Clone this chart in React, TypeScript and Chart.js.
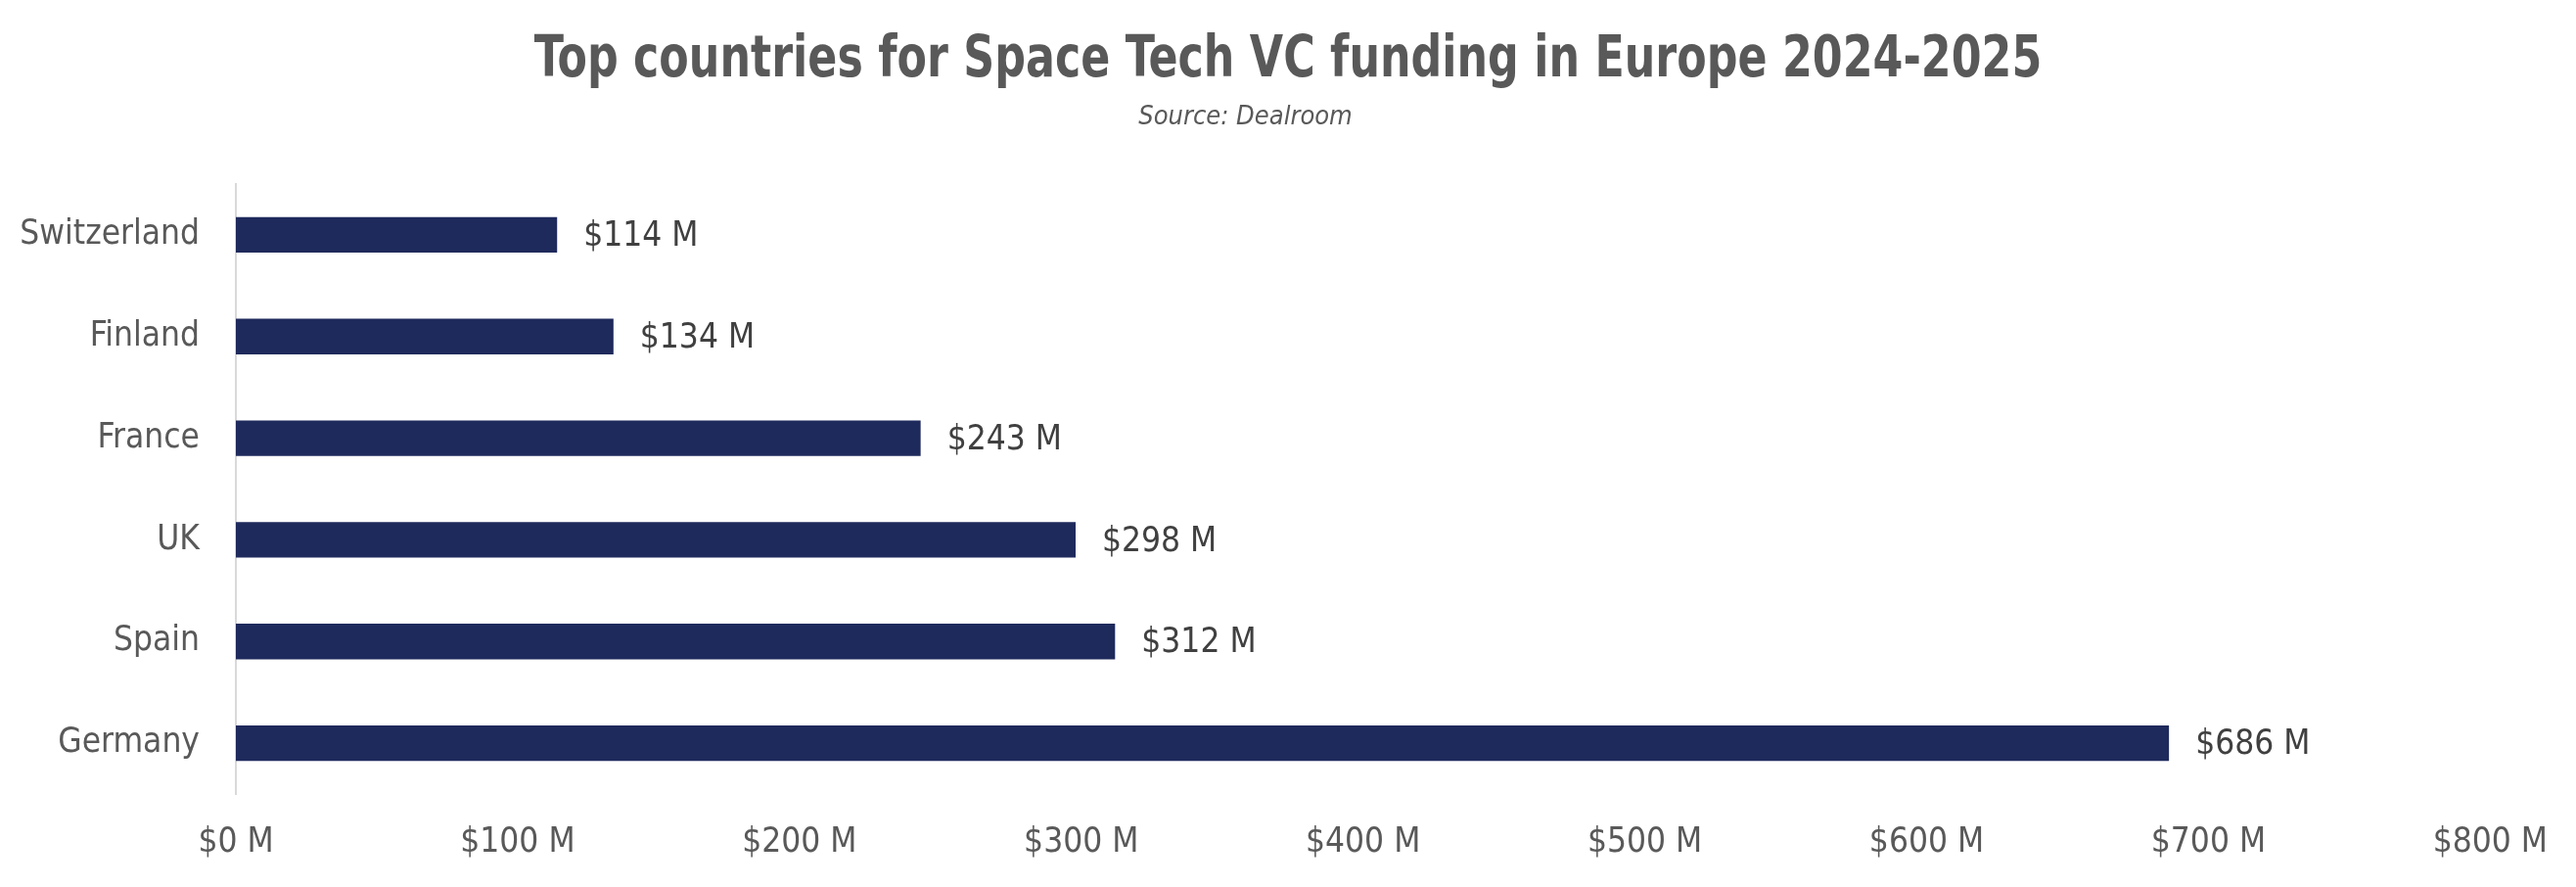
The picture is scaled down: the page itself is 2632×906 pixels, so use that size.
import React, { useEffect, useRef } from "react";
import { Chart, registerables } from "chart.js";

Chart.register(...registerables);

const categories = ["Switzerland", "Finland", "France", "UK", "Spain", "Germany"];
const funding = [114, 134, 243, 298, 312, 686];
const xTicks = [0, 100, 200, 300, 400, 500, 600, 700, 800];
const titleText = "Top countries for Space Tech VC funding in Europe 2024-2025";
const subtitleText = "Source: Dealroom";

const FONT = "'DejaVu Sans Condensed', 'DejaVu Sans', sans-serif";
const BAR = "#1F2A5C";
const GREY = "#595959";
const TITLE_SIZE = 58;

const dataLabels = {
  id: "dataLabels",
  afterDatasetsDraw(chart: any) {
    const { ctx } = chart;
    const meta = chart.getDatasetMeta(0);
    ctx.save();
    ctx.font = `35px ${FONT}`;
    ctx.fillStyle = "#404040";
    ctx.textAlign = "left";
    ctx.textBaseline = "middle";
    meta.data.forEach((bar: any, i: number) => {
      ctx.fillText(`$${funding[i]} M`, bar.x + 27, bar.y + 2);
    });
    ctx.restore();
  },
};

const narrowTitle = {
  id: "narrowTitle",
  afterDraw(chart: any) {
    const tb = chart.titleBlock;
    if (!tb) return;
    const { ctx } = chart;
    const padTop = tb._padding ? tb._padding.top : 25;
    const cy = tb.top + padTop + (TITLE_SIZE * 1.2) / 2 + 3;
    const cx = chart.width / 2;
    ctx.save();
    ctx.font = `bold ${TITLE_SIZE}px ${FONT}`;
    ctx.fillStyle = GREY;
    ctx.textAlign = "center";
    ctx.textBaseline = "middle";
    ctx.translate(cx, cy);
    ctx.scale(0.85, 1);
    ctx.fillText(titleText, 0, 0);
    ctx.restore();
  },
};

export default function App() {
  const ref = useRef<HTMLCanvasElement>(null);
  useEffect(() => {
    document.body.style.margin = "0";
    const chart = new Chart(ref.current!, {
      type: "bar",
      data: {
        labels: categories,
        datasets: [
          {
            data: funding,
            backgroundColor: BAR,
            borderWidth: 0,
            categoryPercentage: 1,
            barPercentage: 0.35,
          },
        ],
      },
      plugins: [dataLabels, narrowTitle],
      options: {
        indexAxis: "y",
        animation: false,
        responsive: false,
        devicePixelRatio: 1,
        layout: { padding: { left: 0, right: 87, top: 0, bottom: 0 } },
        plugins: {
          legend: { display: false },
          tooltip: { enabled: false },
          title: {
            display: true,
            text: titleText,
            color: "rgba(0,0,0,0)",
            font: { family: FONT, size: TITLE_SIZE, weight: "bold" },
            padding: { top: 25, bottom: 0 },
          },
          subtitle: {
            display: true,
            text: subtitleText,
            color: GREY,
            font: { family: FONT, size: 27, style: "italic" },
            padding: { top: 9, bottom: 52 },
          },
        },
        scales: {
          x: {
            min: 0,
            max: 800,
            afterBuildTicks(scale: any) {
              scale.ticks = xTicks.map((v) => ({ value: v }));
            },
            afterFit(scale: any) {
              scale.height = 95;
            },
            grid: { display: false, drawTicks: false },
            border: { display: false },
            ticks: {
              color: GREY,
              padding: 29,
              maxRotation: 0,
              font: { family: FONT, size: 35 },
              callback: (v: any) => `$${v} M`,
            },
          },
          y: {
            afterFit(scale: any) {
              scale.width = 241;
            },
            grid: { display: false, drawTicks: false },
            border: { display: true, color: "#D9D9D9", width: 2 },
            ticks: {
              color: GREY,
              padding: 37,
              font: { family: FONT, size: 35 },
            },
          },
        },
      },
    });
    return () => chart.destroy();
  }, []);
  return (
    <div style={{ width: 2632, height: 906 }}>
      <canvas ref={ref} width={2632} height={906} style={{ display: "block" }} />
    </div>
  );
}
